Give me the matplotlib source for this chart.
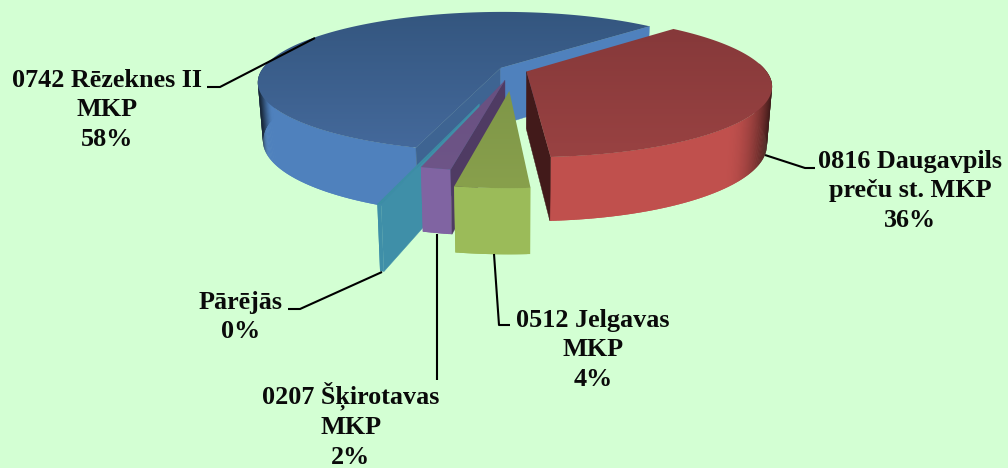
import numpy as np
import matplotlib
matplotlib.use('Agg')
import matplotlib.pyplot as plt
from matplotlib.patches import Polygon

# red first, going clockwise from start_angle
names=['0816 Daugavpils\npreču st. MKP','0512 Jelgavas\nMKP','0207 Šķirotavas\nMKP','Pārējās','0742 Rēzeknes II\nMKP']
values=[36.4,3.8,1.6,0.2,58.0]
shown=[36,4,2,0,58]
explode=[0.06,0.29,0.15,0.47,0.06]
rim_col=['#C0504D','#9BBB59','#8064A2','#3F8FA8','#4F81BD']
top_hi=['#86393A','#7F9648','#68507F','#3C8EA5','#34567F']
top_lo=['#994242','#88A04C','#6E5588','#3C8EA5','#44699B']
wall_end=['#421A1A','#8BA84F','#6E5588','#3F8FA8','#4F81BD']
wall_start=['#8A3A38','#8BA84F','#4F3B63','#3F8FA8','#3E6492']
shade_from=[0.82,0.9,0.9,0.9,0.965]

start_angle=45.0
x0,y0=513,70
R,Ra,H=239,68,57
k=0.2
bg='#D3FFD3'

fig=plt.figure(figsize=(10.08,4.68),dpi=100,facecolor=bg)
ax=fig.add_axes([0,0,1,1])
ax.set_xlim(0,1008)
ax.set_ylim(468,0)
ax.axis('off')

def pt(X,Y,top=True):
    p=1/(1+k*Y)
    if top:
        return (x0+R*X*p,y0-Ra*Y*p)
    return (x0+R*X*p*0.98,y0-Ra*Y*p+H*p**0.5)

def rgb(c):
    return np.array(matplotlib.colors.to_rgb(c))

def slice_geom(i):
    total=sum(values)
    a0=start_angle+360*sum(values[:i])/total
    a1=a0+360*values[i]/total
    mid=np.radians((a0+a1)/2)
    cx=explode[i]*np.sin(mid)
    cy=explode[i]*np.cos(mid)
    return a0,a1,cx,cy

def draw_slice(i,z):
    a0,a1,cx,cy=slice_geom(i)
    th=np.radians(np.linspace(a0,a1,max(int(a1-a0)*2,3)))
    xs=cx+np.sin(th)
    ys=cy+np.cos(th)
    # outer rim, shaded towards the silhouette; quads overlap to hide seams
    base=rgb(rim_col[i])
    for j in range(len(th)-1):
        t=(th[j]+th[j+1])/2
        if np.cos(t)>0.12:
            continue
        # silhouette sits about 10 deg in front of the side because of perspective
        off=np.radians(10)
        s=abs(np.sin(t-off)) if np.sin(t)>0 else abs(np.sin(t+off))
        f=1-0.72*(max(0,s-shade_from[i])/(1-shade_from[i]))**2
        n=min(j+2,len(th)-1)
        q=[pt(xs[j],ys[j]),pt(xs[n],ys[n]),pt(xs[n],ys[n],False),pt(xs[j],ys[j],False)]
        ax.add_patch(Polygon(q,fc=base*f,ec='none',zorder=z))
    # radial walls, only the ones that face the viewer
    for a,col,side in ((a0,wall_start[i],-1),(a1,wall_end[i],1)):
        ex=cx+np.sin(np.radians(a))
        ey=cy+np.cos(np.radians(a))
        c_top,e_top=pt(cx,cy),pt(ex,ey)
        if (e_top[0]-c_top[0])*side>0:
            ax.add_patch(Polygon([c_top,e_top,pt(ex,ey,False),pt(cx,cy,False)],fc=col,ec=col,lw=0.3,zorder=z+0.1))
    # top face with soft vertical gradient
    poly=[pt(cx,cy)]+[pt(a,b) for a,b in zip(xs,ys)]
    arr=np.array(poly)
    hi,lo=rgb(top_hi[i]),rgb(top_lo[i])
    grad=np.linspace(0,1,64)[:,None,None]*(lo-hi)[None,None,:]+hi[None,None,:]
    im=ax.imshow(grad,extent=(arr[:,0].min()-1,arr[:,0].max()+1,arr[:,1].max()+1,arr[:,1].min()-1),aspect='auto',zorder=z+0.2,interpolation='bilinear')
    clip=Polygon(poly,transform=ax.transData,fc='none',ec='none')
    ax.add_patch(clip)
    im.set_clip_path(clip)
    ax.set_xlim(0,1008)
    ax.set_ylim(468,0)

for z,i in enumerate([4,0,3,2,1]):
    draw_slice(i,z+2)

# leader lines and labels
leaders=[[(765,155),(805,168),(815,168)],
         [(494,254),(499,325),(510,325)],
         [(437,234),(437,380)],
         [(382,272),(300,309),(288,309)],
         [(315,38),(220,87),(207,87)]]
label_pos=[(910,191),(593,350),(351,425),(241,317),(107,110)]
for i in range(5):
    l=np.array(leaders[i])
    ax.plot(l[:,0],l[:,1],color='black',lw=1.5,zorder=20,solid_capstyle='butt')
    ax.text(label_pos[i][0],label_pos[i][1],names[i]+'\n%d%%'%shown[i],ha='center',va='center',
            family=['Liberation Serif','DejaVu Serif'],weight='bold',fontsize=18.8,linespacing=1.36,color='#0A0A0A',zorder=21)

fig.savefig('out.png',dpi=100,facecolor=bg)
